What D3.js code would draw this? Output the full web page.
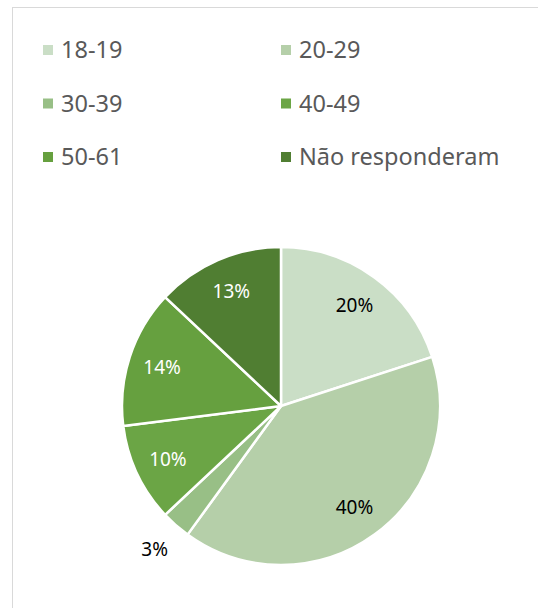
<!DOCTYPE html>
<html lang="pt">
<head>
<meta charset="UTF-8">
<title>Faixa etária</title>
<script src="https://d3js.org/d3.v7.min.js"></script>
<style>
  body { margin: 0; background: #fff; }
  svg { display: block; }
</style>
</head>
<body>
<div id="chart"></div>
<script>
// data
const categories = ["18-19", "20-29", "30-39", "40-49", "50-61", "Não responderam"];
const values = [20, 40, 3, 10, 14, 13];
const labels = ["20%", "40%", "3%", "10%", "14%", "13%"];
const colors = ["#cadec6", "#b5cfa9", "#98bf86", "#6ba545", "#66a03f", "#507e32"];
const labelColors = ["#000", "#000", "#000", "#fff", "#fff", "#fff"];

const W = 538, H = 608;
const font = "'Noto Sans', 'Open Sans', sans-serif";

const svg = d3.select("#chart").append("svg")
    .attr("width", W)
    .attr("height", H);

// chart area border (runs off the right and bottom edge)
svg.append("rect")
    .attr("x", 12.5).attr("y", 7.5)
    .attr("width", 600).attr("height", 700)
    .attr("fill", "#fff")
    .attr("stroke", "#d9d9d9")
    .attr("stroke-width", 1);

// legend, two columns
const legendX = d3.scaleOrdinal().domain([0, 1]).range([43, 281]);
const legendY = d3.scalePoint().domain([0, 1, 2]).range([50, 157]);

const legend = svg.append("g")
    .selectAll("g")
    .data(categories)
    .join("g")
    .attr("transform", (d, i) => `translate(${legendX(i % 2)},${legendY(Math.floor(i / 2))})`);

legend.append("rect")
    .attr("x", 0).attr("y", -5)
    .attr("width", 10).attr("height", 10)
    .attr("fill", (d, i) => colors[i]);

legend.append("text")
    .attr("x", 18)
    .attr("dy", "0.36em")
    .style("font-family", font)
    .style("font-size", "23.5px")
    .style("fill", "#595959")
    .text(d => d);

// pie
const cx = 281, cy = 406, R = 159;
const pie = d3.pie().sort(null).value(d => d);
const arcs = pie(values);
const arc = d3.arc().innerRadius(0).outerRadius(R);
const labelArc = d3.arc().innerRadius(125).outerRadius(125);
const outerArc = d3.arc().innerRadius(191).outerRadius(191);

const g = svg.append("g").attr("transform", `translate(${cx},${cy})`);

g.selectAll("path")
    .data(arcs)
    .join("path")
    .attr("d", arc)
    .attr("fill", (d, i) => colors[i])
    .attr("stroke", "#fff")
    .attr("stroke-width", 2.5)
    .attr("stroke-linejoin", "round");

// small slices get their label outside
g.selectAll("text")
    .data(arcs)
    .join("text")
    .attr("transform", d => {
        const p = (d.data < 5 ? outerArc : labelArc).centroid(d);
        return `translate(${p[0]},${p[1]})`;
    })
    .attr("text-anchor", "middle")
    .attr("dy", "0.36em")
    .style("font-family", font)
    .style("font-size", "19px")
    .style("fill", (d, i) => d.data < 5 ? "#000" : labelColors[i])
    .text((d, i) => labels[i]);
</script>
</body>
</html>
